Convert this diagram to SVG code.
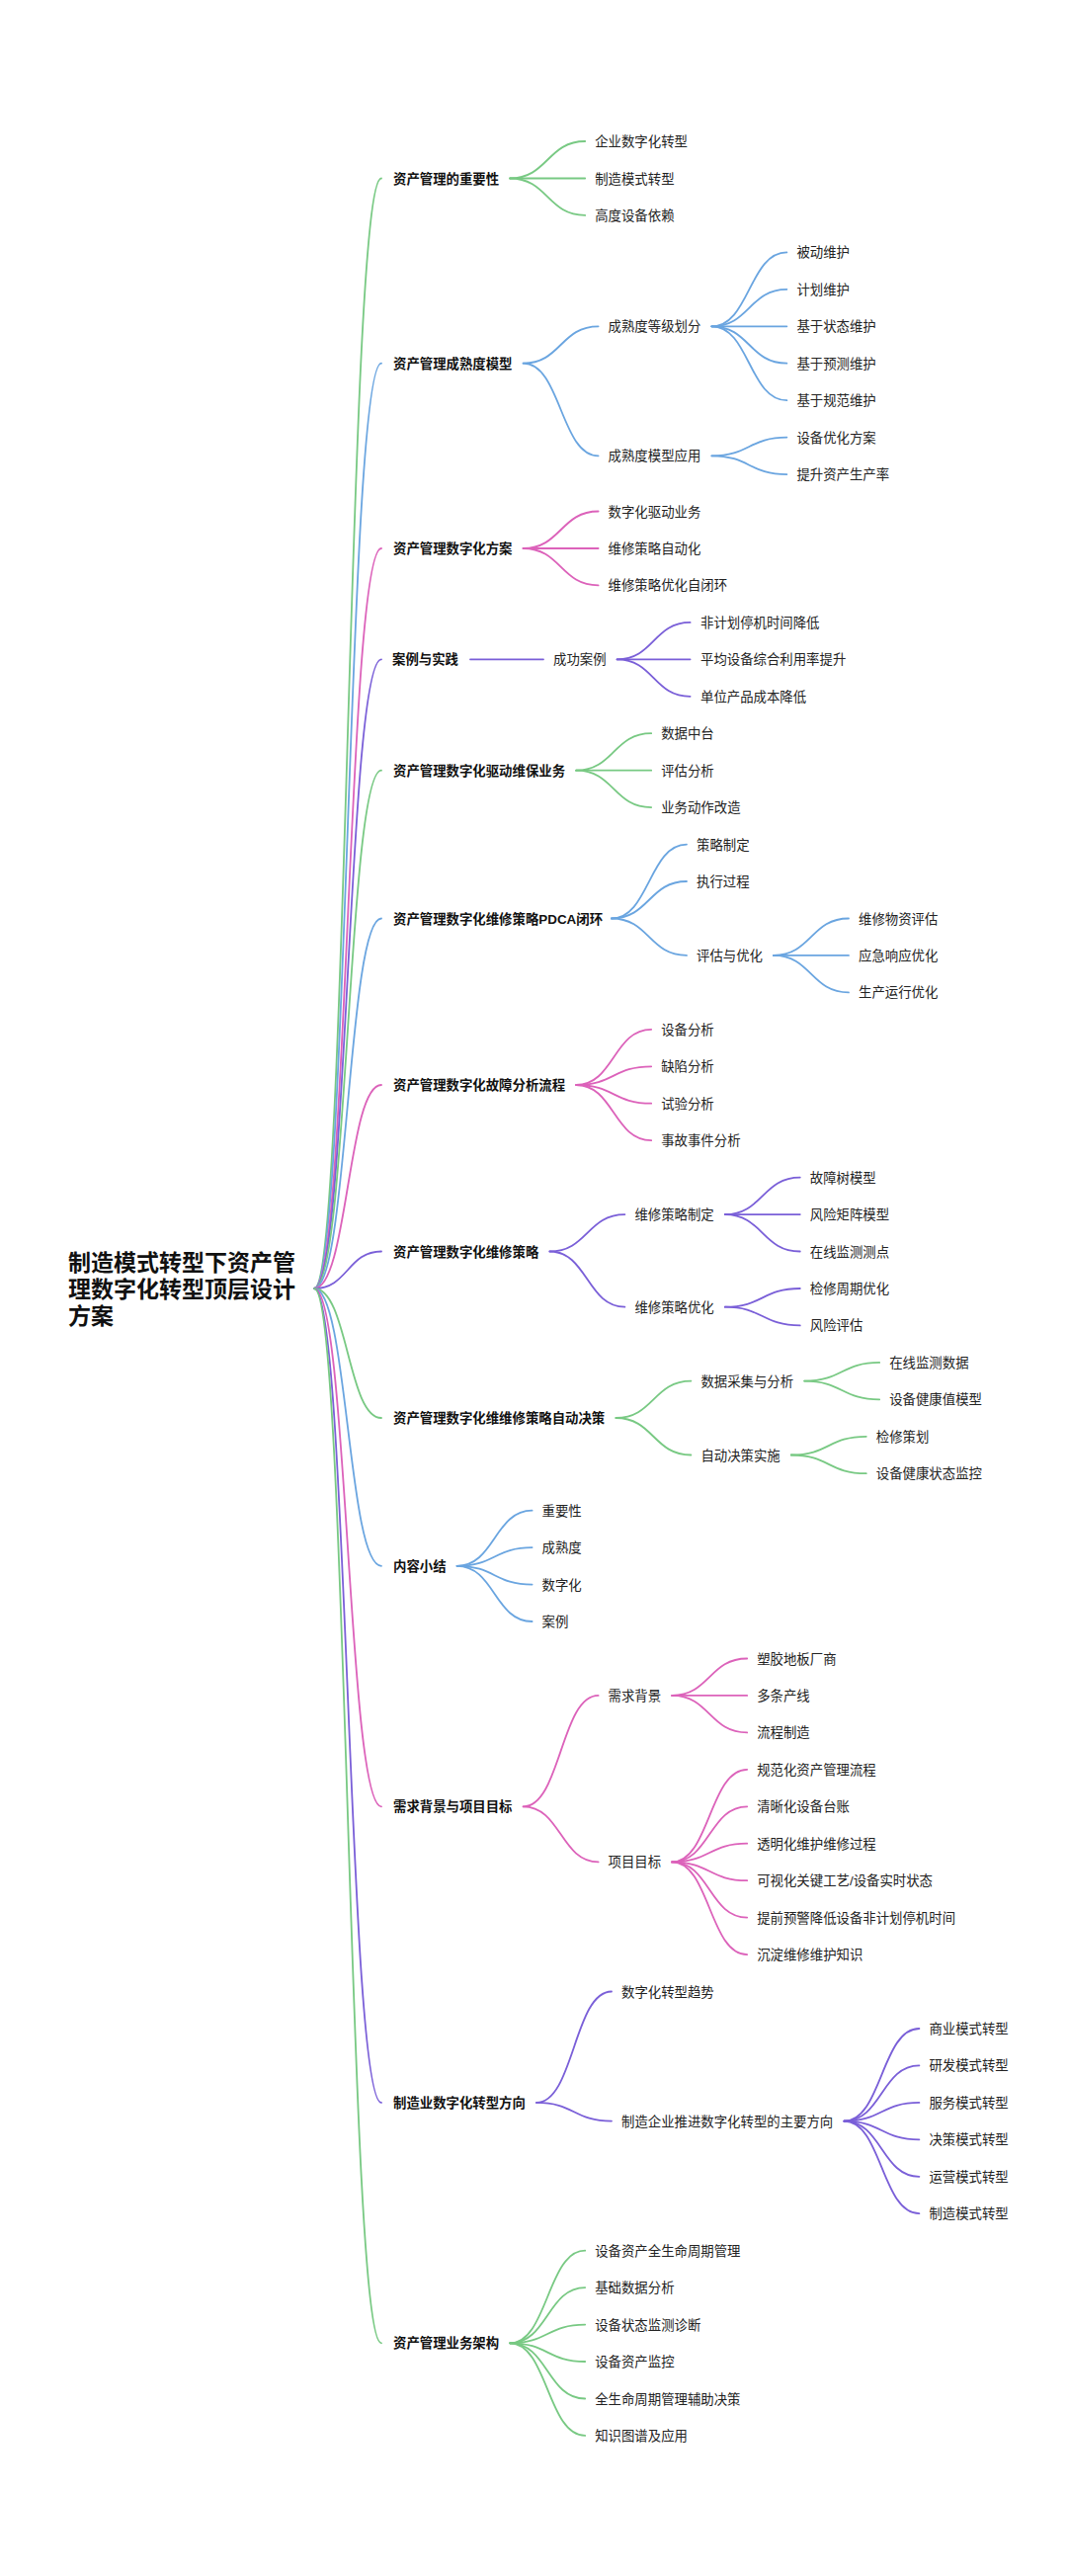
<svg xmlns="http://www.w3.org/2000/svg" width="1080" height="2607" viewBox="0 0 1080 2607">
<style>
.bg{fill:#ffffff}
.l{fill:none;stroke-width:1.8;stroke-linecap:round}
.cg{stroke:#78c983}
.cb{stroke:#6aa5e0}
.cp{stroke:#dc62ba}
.cu{stroke:#7a5fd8}
text{font-family:"Liberation Sans","Noto Sans CJK SC",sans-serif;font-size:13.4px;fill:#222222}
.b{font-weight:bold;fill:#111111}
.r{font-size:23px;font-weight:bold;fill:#111111}
</style>
<rect class="bg" x="0" y="0" width="1080" height="2607"/>
<g id="connectors">
<path class="l cg" d="M318 1304 C352 1304 352 180.5 386 180.5"/>
<path class="l cb" d="M318 1304 C352 1304 352 367.7 386 367.7"/>
<path class="l cp" d="M318 1304 C352 1304 352 555 386 555"/>
<path class="l cu" d="M318 1304 C352 1304 352 667.3 386 667.3"/>
<path class="l cg" d="M318 1304 C352 1304 352 779.7 386 779.7"/>
<path class="l cb" d="M318 1304 C352 1304 352 929.5 386 929.5"/>
<path class="l cp" d="M318 1304 C352 1304 352 1098 386 1098"/>
<path class="l cu" d="M318 1304 C352 1304 352 1266.5 386 1266.5"/>
<path class="l cg" d="M318 1304 C352 1304 352 1435 386 1435"/>
<path class="l cb" d="M318 1304 C352 1304 352 1584.8 386 1584.8"/>
<path class="l cp" d="M318 1304 C352 1304 352 1828.3 386 1828.3"/>
<path class="l cu" d="M318 1304 C352 1304 352 2127.9 386 2127.9"/>
<path class="l cg" d="M318 1304 C352 1304 352 2371.3 386 2371.3"/>
<path class="l cg" d="M516.2 180.5 C554.2 180.5 554.2 143 592.2 143"/>
<path class="l cg" d="M516.2 180.5 C554.2 180.5 554.2 180.5 592.2 180.5"/>
<path class="l cg" d="M516.2 180.5 C554.2 180.5 554.2 217.9 592.2 217.9"/>
<path class="l cb" d="M529.6 367.7 C567.6 367.7 567.6 330.3 605.6 330.3"/>
<path class="l cb" d="M529.6 367.7 C567.6 367.7 567.6 461.3 605.6 461.3"/>
<path class="l cb" d="M720.4 330.3 C758.4 330.3 758.4 255.4 796.4 255.4"/>
<path class="l cb" d="M720.4 330.3 C758.4 330.3 758.4 292.8 796.4 292.8"/>
<path class="l cb" d="M720.4 330.3 C758.4 330.3 758.4 330.3 796.4 330.3"/>
<path class="l cb" d="M720.4 330.3 C758.4 330.3 758.4 367.7 796.4 367.7"/>
<path class="l cb" d="M720.4 330.3 C758.4 330.3 758.4 405.2 796.4 405.2"/>
<path class="l cb" d="M720.4 461.3 C758.4 461.3 758.4 442.6 796.4 442.6"/>
<path class="l cb" d="M720.4 461.3 C758.4 461.3 758.4 480.1 796.4 480.1"/>
<path class="l cp" d="M529.6 555 C567.6 555 567.6 517.5 605.6 517.5"/>
<path class="l cp" d="M529.6 555 C567.6 555 567.6 555 605.6 555"/>
<path class="l cp" d="M529.6 555 C567.6 555 567.6 592.4 605.6 592.4"/>
<path class="l cu" d="M476 667.3 C514 667.3 514 667.3 550 667.3"/>
<path class="l cu" d="M624.6 667.3 C661.6 667.3 661.6 629.9 698.6 629.9"/>
<path class="l cu" d="M624.6 667.3 C661.6 667.3 661.6 667.3 698.6 667.3"/>
<path class="l cu" d="M624.6 667.3 C661.6 667.3 661.6 704.8 698.6 704.8"/>
<path class="l cg" d="M583.2 779.7 C621.2 779.7 621.2 742.2 659.2 742.2"/>
<path class="l cg" d="M583.2 779.7 C621.2 779.7 621.2 779.7 659.2 779.7"/>
<path class="l cg" d="M583.2 779.7 C621.2 779.7 621.2 817.1 659.2 817.1"/>
<path class="l cb" d="M619 929.5 C657 929.5 657 854.6 695 854.6"/>
<path class="l cb" d="M619 929.5 C657 929.5 657 892 695 892"/>
<path class="l cb" d="M619 929.5 C657 929.5 657 966.9 695 966.9"/>
<path class="l cb" d="M783 966.9 C821 966.9 821 929.5 859 929.5"/>
<path class="l cb" d="M783 966.9 C821 966.9 821 966.9 859 966.9"/>
<path class="l cb" d="M783 966.9 C821 966.9 821 1004.4 859 1004.4"/>
<path class="l cp" d="M583.2 1098 C621.2 1098 621.2 1041.8 659.2 1041.8"/>
<path class="l cp" d="M583.2 1098 C621.2 1098 621.2 1079.3 659.2 1079.3"/>
<path class="l cp" d="M583.2 1098 C621.2 1098 621.2 1116.7 659.2 1116.7"/>
<path class="l cp" d="M583.2 1098 C621.2 1098 621.2 1154.2 659.2 1154.2"/>
<path class="l cu" d="M556.4 1266.5 C594.4 1266.5 594.4 1229.1 632.4 1229.1"/>
<path class="l cu" d="M556.4 1266.5 C594.4 1266.5 594.4 1322.7 632.4 1322.7"/>
<path class="l cu" d="M733.8 1229.1 C771.8 1229.1 771.8 1191.6 809.8 1191.6"/>
<path class="l cu" d="M733.8 1229.1 C771.8 1229.1 771.8 1229.1 809.8 1229.1"/>
<path class="l cu" d="M733.8 1229.1 C771.8 1229.1 771.8 1266.5 809.8 1266.5"/>
<path class="l cu" d="M733.8 1322.7 C771.8 1322.7 771.8 1304 809.8 1304"/>
<path class="l cu" d="M733.8 1322.7 C771.8 1322.7 771.8 1341.4 809.8 1341.4"/>
<path class="l cg" d="M623.4 1435 C661.4 1435 661.4 1397.6 699.4 1397.6"/>
<path class="l cg" d="M623.4 1435 C661.4 1435 661.4 1472.5 699.4 1472.5"/>
<path class="l cg" d="M814.2 1397.6 C852.2 1397.6 852.2 1378.9 890.2 1378.9"/>
<path class="l cg" d="M814.2 1397.6 C852.2 1397.6 852.2 1416.3 890.2 1416.3"/>
<path class="l cg" d="M800.8 1472.5 C838.8 1472.5 838.8 1453.8 876.8 1453.8"/>
<path class="l cg" d="M800.8 1472.5 C838.8 1472.5 838.8 1491.2 876.8 1491.2"/>
<path class="l cb" d="M462.6 1584.8 C500.6 1584.8 500.6 1528.7 538.6 1528.7"/>
<path class="l cb" d="M462.6 1584.8 C500.6 1584.8 500.6 1566.1 538.6 1566.1"/>
<path class="l cb" d="M462.6 1584.8 C500.6 1584.8 500.6 1603.6 538.6 1603.6"/>
<path class="l cb" d="M462.6 1584.8 C500.6 1584.8 500.6 1641 538.6 1641"/>
<path class="l cp" d="M529.6 1828.3 C567.6 1828.3 567.6 1715.9 605.6 1715.9"/>
<path class="l cp" d="M529.6 1828.3 C567.6 1828.3 567.6 1884.4 605.6 1884.4"/>
<path class="l cp" d="M680.2 1715.9 C718.2 1715.9 718.2 1678.5 756.2 1678.5"/>
<path class="l cp" d="M680.2 1715.9 C718.2 1715.9 718.2 1715.9 756.2 1715.9"/>
<path class="l cp" d="M680.2 1715.9 C718.2 1715.9 718.2 1753.4 756.2 1753.4"/>
<path class="l cp" d="M680.2 1884.4 C718.2 1884.4 718.2 1790.8 756.2 1790.8"/>
<path class="l cp" d="M680.2 1884.4 C718.2 1884.4 718.2 1828.3 756.2 1828.3"/>
<path class="l cp" d="M680.2 1884.4 C718.2 1884.4 718.2 1865.7 756.2 1865.7"/>
<path class="l cp" d="M680.2 1884.4 C718.2 1884.4 718.2 1903.2 756.2 1903.2"/>
<path class="l cp" d="M680.2 1884.4 C718.2 1884.4 718.2 1940.6 756.2 1940.6"/>
<path class="l cp" d="M680.2 1884.4 C718.2 1884.4 718.2 1978.1 756.2 1978.1"/>
<path class="l cu" d="M543 2127.9 C581 2127.9 581 2015.5 619 2015.5"/>
<path class="l cu" d="M543 2127.9 C581 2127.9 581 2146.6 619 2146.6"/>
<path class="l cu" d="M854.4 2146.6 C892.4 2146.6 892.4 2053 930.4 2053"/>
<path class="l cu" d="M854.4 2146.6 C892.4 2146.6 892.4 2090.4 930.4 2090.4"/>
<path class="l cu" d="M854.4 2146.6 C892.4 2146.6 892.4 2127.9 930.4 2127.9"/>
<path class="l cu" d="M854.4 2146.6 C892.4 2146.6 892.4 2165.3 930.4 2165.3"/>
<path class="l cu" d="M854.4 2146.6 C892.4 2146.6 892.4 2202.8 930.4 2202.8"/>
<path class="l cu" d="M854.4 2146.6 C892.4 2146.6 892.4 2240.2 930.4 2240.2"/>
<path class="l cg" d="M516.2 2371.3 C554.2 2371.3 554.2 2277.7 592.2 2277.7"/>
<path class="l cg" d="M516.2 2371.3 C554.2 2371.3 554.2 2315.1 592.2 2315.1"/>
<path class="l cg" d="M516.2 2371.3 C554.2 2371.3 554.2 2352.6 592.2 2352.6"/>
<path class="l cg" d="M516.2 2371.3 C554.2 2371.3 554.2 2390 592.2 2390"/>
<path class="l cg" d="M516.2 2371.3 C554.2 2371.3 554.2 2427.5 592.2 2427.5"/>
<path class="l cg" d="M516.2 2371.3 C554.2 2371.3 554.2 2464.9 592.2 2464.9"/>
</g>
<g id="root">
<text class="r" x="69" y="1285.5">制造模式转型下资产管</text>
<text class="r" x="69" y="1312.5">理数字化转型顶层设计</text>
<text class="r" x="69" y="1339.5">方案</text>
</g>
<g id="n1"><text class="b" x="398" y="185.5">资产管理的重要性</text></g>
<g id="n1-1"><text x="602.2" y="148">企业数字化转型</text></g>
<g id="n1-2"><text x="602.2" y="185.5">制造模式转型</text></g>
<g id="n1-3"><text x="602.2" y="222.9">高度设备依赖</text></g>
<g id="n2"><text class="b" x="398" y="372.7">资产管理成熟度模型</text></g>
<g id="n2-1"><text x="615.6" y="335.3">成熟度等级划分</text></g>
<g id="n2-1-1"><text x="806.4" y="260.4">被动维护</text></g>
<g id="n2-1-2"><text x="806.4" y="297.8">计划维护</text></g>
<g id="n2-1-3"><text x="806.4" y="335.3">基于状态维护</text></g>
<g id="n2-1-4"><text x="806.4" y="372.7">基于预测维护</text></g>
<g id="n2-1-5"><text x="806.4" y="410.2">基于规范维护</text></g>
<g id="n2-2"><text x="615.6" y="466.3">成熟度模型应用</text></g>
<g id="n2-2-1"><text x="806.4" y="447.6">设备优化方案</text></g>
<g id="n2-2-2"><text x="806.4" y="485.1">提升资产生产率</text></g>
<g id="n3"><text class="b" x="398" y="560">资产管理数字化方案</text></g>
<g id="n3-1"><text x="615.6" y="522.5">数字化驱动业务</text></g>
<g id="n3-2"><text x="615.6" y="560">维修策略自动化</text></g>
<g id="n3-3"><text x="615.6" y="597.4">维修策略优化自闭环</text></g>
<g id="n4"><text class="b" x="397" y="672.3">案例与实践</text></g>
<g id="n4-1"><text x="560" y="672.3">成功案例</text></g>
<g id="n4-1-1"><text x="709" y="634.9">非计划停机时间降低</text></g>
<g id="n4-1-2"><text x="709" y="672.3">平均设备综合利用率提升</text></g>
<g id="n4-1-3"><text x="709" y="709.8">单位产品成本降低</text></g>
<g id="n5"><text class="b" x="398" y="784.7">资产管理数字化驱动维保业务</text></g>
<g id="n5-1"><text x="669.2" y="747.2">数据中台</text></g>
<g id="n5-2"><text x="669.2" y="784.7">评估分析</text></g>
<g id="n5-3"><text x="669.2" y="822.1">业务动作改造</text></g>
<g id="n6"><text class="b" x="398" y="934.5">资产管理数字化维修策略PDCA闭环</text></g>
<g id="n6-1"><text x="705" y="859.6">策略制定</text></g>
<g id="n6-2"><text x="705" y="897">执行过程</text></g>
<g id="n6-3"><text x="705" y="971.9">评估与优化</text></g>
<g id="n6-3-1"><text x="869" y="934.5">维修物资评估</text></g>
<g id="n6-3-2"><text x="869" y="971.9">应急响应优化</text></g>
<g id="n6-3-3"><text x="869" y="1009.4">生产运行优化</text></g>
<g id="n7"><text class="b" x="398" y="1103">资产管理数字化故障分析流程</text></g>
<g id="n7-1"><text x="669.2" y="1046.8">设备分析</text></g>
<g id="n7-2"><text x="669.2" y="1084.3">缺陷分析</text></g>
<g id="n7-3"><text x="669.2" y="1121.7">试验分析</text></g>
<g id="n7-4"><text x="669.2" y="1159.2">事故事件分析</text></g>
<g id="n8"><text class="b" x="398" y="1271.5">资产管理数字化维修策略</text></g>
<g id="n8-1"><text x="642.4" y="1234.1">维修策略制定</text></g>
<g id="n8-1-1"><text x="819.8" y="1196.6">故障树模型</text></g>
<g id="n8-1-2"><text x="819.8" y="1234.1">风险矩阵模型</text></g>
<g id="n8-1-3"><text x="819.8" y="1271.5">在线监测测点</text></g>
<g id="n8-2"><text x="642.4" y="1327.7">维修策略优化</text></g>
<g id="n8-2-1"><text x="819.8" y="1309">检修周期优化</text></g>
<g id="n8-2-2"><text x="819.8" y="1346.4">风险评估</text></g>
<g id="n9"><text class="b" x="398" y="1440">资产管理数字化维维修策略自动决策</text></g>
<g id="n9-1"><text x="709.4" y="1402.6">数据采集与分析</text></g>
<g id="n9-1-1"><text x="900.2" y="1383.9">在线监测数据</text></g>
<g id="n9-1-2"><text x="900.2" y="1421.3">设备健康值模型</text></g>
<g id="n9-2"><text x="709.4" y="1477.5">自动决策实施</text></g>
<g id="n9-2-1"><text x="886.8" y="1458.8">检修策划</text></g>
<g id="n9-2-2"><text x="886.8" y="1496.2">设备健康状态监控</text></g>
<g id="n10"><text class="b" x="398" y="1589.8">内容小结</text></g>
<g id="n10-1"><text x="548.6" y="1533.7">重要性</text></g>
<g id="n10-2"><text x="548.6" y="1571.1">成熟度</text></g>
<g id="n10-3"><text x="548.6" y="1608.6">数字化</text></g>
<g id="n10-4"><text x="548.6" y="1646">案例</text></g>
<g id="n11"><text class="b" x="398" y="1833.3">需求背景与项目目标</text></g>
<g id="n11-1"><text x="615.6" y="1720.9">需求背景</text></g>
<g id="n11-1-1"><text x="766.2" y="1683.5">塑胶地板厂商</text></g>
<g id="n11-1-2"><text x="766.2" y="1720.9">多条产线</text></g>
<g id="n11-1-3"><text x="766.2" y="1758.4">流程制造</text></g>
<g id="n11-2"><text x="615.6" y="1889.4">项目目标</text></g>
<g id="n11-2-1"><text x="766.2" y="1795.8">规范化资产管理流程</text></g>
<g id="n11-2-2"><text x="766.2" y="1833.3">清晰化设备台账</text></g>
<g id="n11-2-3"><text x="766.2" y="1870.7">透明化维护维修过程</text></g>
<g id="n11-2-4"><text x="766.2" y="1908.2">可视化关键工艺/设备实时状态</text></g>
<g id="n11-2-5"><text x="766.2" y="1945.6">提前预警降低设备非计划停机时间</text></g>
<g id="n11-2-6"><text x="766.2" y="1983.1">沉淀维修维护知识</text></g>
<g id="n12"><text class="b" x="398" y="2132.9">制造业数字化转型方向</text></g>
<g id="n12-1"><text x="629" y="2020.5">数字化转型趋势</text></g>
<g id="n12-2"><text x="629" y="2151.6">制造企业推进数字化转型的主要方向</text></g>
<g id="n12-2-1"><text x="940.4" y="2058">商业模式转型</text></g>
<g id="n12-2-2"><text x="940.4" y="2095.4">研发模式转型</text></g>
<g id="n12-2-3"><text x="940.4" y="2132.9">服务模式转型</text></g>
<g id="n12-2-4"><text x="940.4" y="2170.3">决策模式转型</text></g>
<g id="n12-2-5"><text x="940.4" y="2207.8">运营模式转型</text></g>
<g id="n12-2-6"><text x="940.4" y="2245.2">制造模式转型</text></g>
<g id="n13"><text class="b" x="398" y="2376.3">资产管理业务架构</text></g>
<g id="n13-1"><text x="602.2" y="2282.7">设备资产全生命周期管理</text></g>
<g id="n13-2"><text x="602.2" y="2320.1">基础数据分析</text></g>
<g id="n13-3"><text x="602.2" y="2357.6">设备状态监测诊断</text></g>
<g id="n13-4"><text x="602.2" y="2395">设备资产监控</text></g>
<g id="n13-5"><text x="602.2" y="2432.5">全生命周期管理辅助决策</text></g>
<g id="n13-6"><text x="602.2" y="2469.9">知识图谱及应用</text></g>
</svg>
